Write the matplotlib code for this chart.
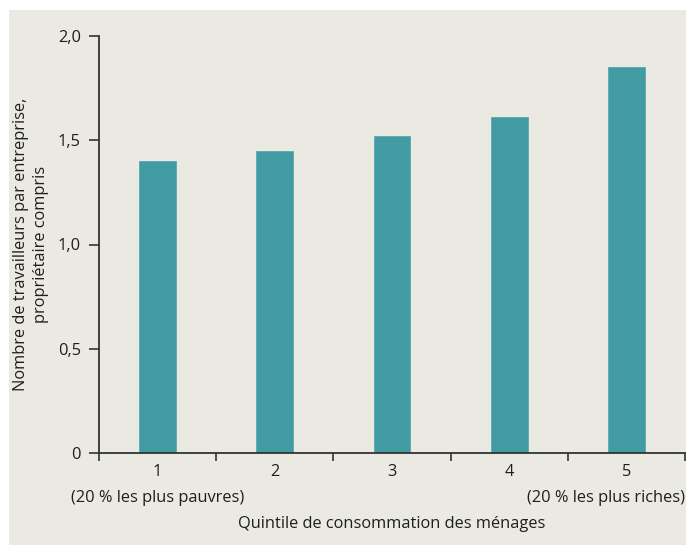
import matplotlib
matplotlib.use("Agg")
import matplotlib.pyplot as plt
from matplotlib.patches import Rectangle
import numpy as np

plt.rcParams["font.family"] = ["Open Sans", "DejaVu Sans"]

quintiles = ["1", "2", "3", "4", "5"]
workers = [1.40, 1.45, 1.52, 1.61, 1.85]
y_ticks = [0, 0.5, 1.0, 1.5, 2.0]
y_labels = ["0", "0,5", "1,0", "1,5", "2,0"]

BG = "#ebeae2"
BAR = "#429aa2"
AX = "#333333"
TXT = "#1e1e1e"
FS = 11.8

W, H = 686, 545
fig = plt.figure(figsize=(W / 100, H / 100), dpi=100)
fig.patch.set_facecolor("white")
fig.patches.append(Rectangle((9 / W, 0), 1, 1 - 10 / H, transform=fig.transFigure,
                             facecolor=BG, edgecolor="none", zorder=-1))

ax = fig.add_axes([99 / W, 1 - 453 / H, (685 - 99) / W, (453 - 36) / H])
ax.set_facecolor("none")

x = np.arange(len(quintiles))
ax.bar(x, workers, width=0.315, color=BAR, edgecolor="#5aa9af", linewidth=0.6)

ax.set_xlim(-0.5, len(quintiles) - 0.5)
ax.set_ylim(0, 2.0)

ax.set_yticks(y_ticks)
ax.set_yticklabels(y_labels)
ax.set_xticks(x)
ax.set_xticklabels(quintiles)
ax.set_xticks(np.arange(-0.5, len(quintiles)), minor=True)

ax.tick_params(axis="y", length=7, width=1.2, color=AX, labelsize=FS, pad=6, labelcolor=TXT)
ax.tick_params(axis="x", which="major", length=0, labelsize=FS, pad=8, labelcolor=TXT)
ax.tick_params(axis="x", which="minor", length=6, width=1.2, color=AX)

for s in ["top", "right"]:
    ax.spines[s].set_visible(False)
for s in ["left", "bottom"]:
    ax.spines[s].set_color(AX)
    ax.spines[s].set_linewidth(1.3)

ax.text(0, -0.107, "(20 % les plus pauvres)", transform=ax.get_xaxis_transform(),
        ha="center", va="center", fontsize=FS, color=TXT)
ax.text(1.0, -0.107, "(20 % les plus riches)", transform=ax.transAxes,
        ha="right", va="center", fontsize=FS, color=TXT)

ax.set_xlabel("Quintile de consommation des ménages", fontsize=FS, labelpad=26, color=TXT)
ax.set_ylabel("Nombre de travailleurs par entreprise,\npropriétaire compris",
              fontsize=FS, labelpad=6, color=TXT, linespacing=1.4)

fig.savefig("out.png", dpi=100, facecolor=fig.get_facecolor())
